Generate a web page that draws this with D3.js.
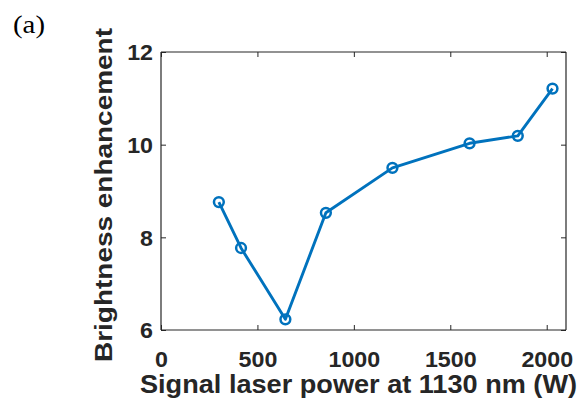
<!DOCTYPE html>
<html><head><meta charset="utf-8">
<script src="https://cdn.jsdelivr.net/npm/d3@7"></script>
<style>body{margin:0;background:#fff}</style>
</head><body>
<svg id="c" width="582" height="403"></svg>
<script>
const power = [300, 415, 645, 855, 1200, 1600, 1850, 2030];
const brightness = [8.76, 7.77, 6.23, 8.53, 9.50, 10.03, 10.19, 11.21];
const xTicks = [0, 500, 1000, 1500, 2000];
const yTicks = [6, 8, 10, 12];
const xLabel = "Signal laser power at 1130 nm (W)";
const yLabel = "Brightness enhancement";
const panel = "(a)";

const svg = d3.select("#c");
const L = 161, R = 566, T = 52, B = 330;
const x = d3.scaleLinear().domain([0, 2100]).range([L, R]);
const y = d3.scaleLinear().domain([6, 12]).range([B, T]);
const axCol = "#262626", blue = "#0072BD";
const font = "'Liberation Sans', Arial, sans-serif";

function stretch(sel, k) {
  sel.each(function () {
    const len = this.getComputedTextLength();
    d3.select(this).attr("textLength", len * k).attr("lengthAdjust", "spacingAndGlyphs");
  });
}

const gx = svg.append("g").attr("transform", `translate(0,${B})`)
  .call(d3.axisBottom(x).tickValues(xTicks).tickSize(-5).tickFormat(d3.format("d")));
const gy = svg.append("g").attr("transform", `translate(${L},0)`)
  .call(d3.axisLeft(y).tickValues(yTicks).tickSize(-5).tickFormat(d3.format("d")));
const gt = svg.append("g").attr("transform", `translate(0,${T})`)
  .call(d3.axisTop(x).tickValues(xTicks).tickSize(-5).tickFormat(""));
const gr = svg.append("g").attr("transform", `translate(${R},0)`)
  .call(d3.axisRight(y).tickValues(yTicks).tickSize(-5).tickFormat(""));
[gx, gy, gt, gr].forEach(g => {
  g.select(".domain").attr("stroke", axCol).attr("stroke-width", 1.2);
  g.selectAll(".tick line").attr("stroke", axCol).attr("stroke-width", 1);
  g.selectAll(".tick text").attr("fill", axCol).attr("font-family", font)
    .attr("font-weight", "bold").attr("font-size", 21.5);
});
gx.selectAll(".tick text").attr("y", 37).attr("dy", 0);
gy.selectAll(".tick text").attr("x", -8).attr("dy", "0.37em");
stretch(gx.selectAll(".tick text"), 1.08);
stretch(gy.selectAll(".tick text"), 1.08);
gx.selectAll(".domain").attr("d", `M${L},0H${R}`);
gt.selectAll(".domain").attr("d", `M${L},0H${R}`);
gy.selectAll(".domain").attr("d", `M0,${B}V${T}`);
gr.selectAll(".domain").attr("d", `M0,${B}V${T}`);

const line = d3.line().x((d, i) => x(power[i])).y(d => y(d));
svg.append("path").datum(brightness).attr("d", line)
  .attr("fill", "none").attr("stroke", blue).attr("stroke-width", 2.9).attr("stroke-linejoin", "round");
svg.selectAll("circle.m").data(brightness).join("circle").attr("class", "m")
  .attr("cx", (d, i) => x(power[i])).attr("cy", d => y(d)).attr("r", 4.9)
  .attr("fill", "none").attr("stroke", blue).attr("stroke-width", 2.5);

svg.append("text").attr("x", 358.5).attr("y", 393).attr("text-anchor", "middle")
  .attr("font-family", font).attr("font-weight", "bold").attr("font-size", 25)
  .attr("textLength", 437).attr("lengthAdjust", "spacingAndGlyphs")
  .attr("fill", axCol).text(xLabel);
svg.append("text").attr("transform", `translate(112,195) rotate(-90)`).attr("text-anchor", "middle")
  .attr("font-family", font).attr("font-weight", "bold").attr("font-size", 24)
  .attr("textLength", 334).attr("lengthAdjust", "spacingAndGlyphs")
  .attr("fill", axCol).text(yLabel);
svg.append("text").attr("x", 13).attr("y", 33)
  .attr("font-family", "'Liberation Serif', 'Times New Roman', serif").attr("font-size", 26)
  .attr("textLength", 32).attr("lengthAdjust", "spacingAndGlyphs")
  .attr("fill", "#000").text(panel);
</script>
</body></html>
